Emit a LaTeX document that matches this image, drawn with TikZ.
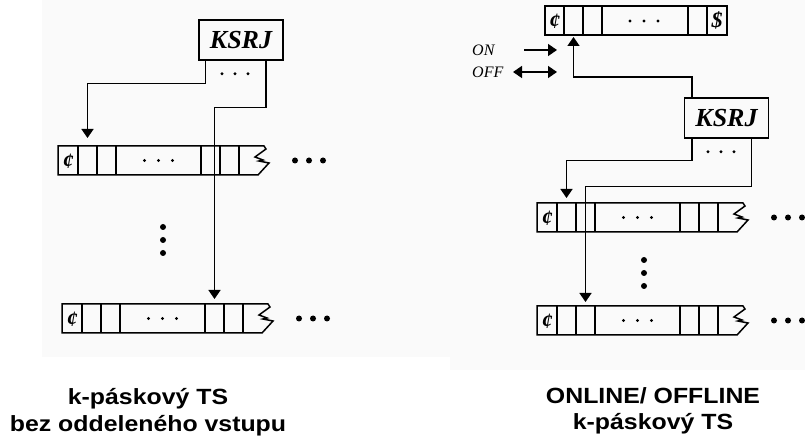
\documentclass[tikz,border=0pt]{standalone}
\usepackage{graphicx}
\usepackage{fontspec}
\setmainfont{Liberation Serif}
\newfontfamily\capfont{Liberation Sans}
\usetikzlibrary{arrows.meta,calc}
\tikzset{
  ln/.style={line width=1.5bp},
  conn/.style={ln, -{Triangle[length=9bp,width=12bp]}},
  dconn/.style={ln, {Triangle[length=9bp,width=12bp]}-{Triangle[length=9bp,width=12bp]}},
  ksrj/.style={draw, ln, minimum width=84bp, minimum height=40bp, inner sep=0pt,
    font=\fontsize{26bp}{28bp}\selectfont\bfseries\itshape},
  sym/.style={inner sep=0pt, font=\fontsize{22bp}{24bp}\selectfont\bfseries\itshape},
  lab/.style={inner sep=0pt, font=\fontsize{16bp}{18bp}\selectfont\itshape},
  captext/.style={inner sep=0pt, anchor=base, font=\capfont\bfseries\fontsize{22bp}{26bp}\selectfont},
}
\newcommand{\tapeat}[3]{%
  \begin{scope}[shift={(#2,#3)}]
    \draw[ln] (0,0) -- (206,0) -- (208,3) -- (197,11) -- (205,14) -- (201,15) -- (211,17) -- (200,29) -- (0,29) -- cycle;
    \foreach \c in {20,39,58,143,162,181} {\draw[ln] (\c,0) -- (\c,29);}
    \node[sym] (#1-s) at (10,15) {¢};
    \foreach \d in {86.5,100.5,114.5} {\fill (\d,14.5) circle (1.6bp);}
    \foreach \d in {237,251,265} {\fill (\d,14.5) circle (3bp);}
    \coordinate (#1-k2) at (29.5,0);
    \coordinate (#1-k3) at (48.5,0);
    \coordinate (#1-k5) at (152.5,0);
  \end{scope}}
\begin{document}
\begin{tikzpicture}[x=1bp, y=-1bp]
  \useasboundingbox (0,0) rectangle (805,436);
  % faint panel backgrounds
  \fill[black!2] (42,0) rectangle (450,357);
  \fill[black!2] (450,0) rectangle (805,370);

  % ---------- left panel ----------
  \node[ksrj] (k1) at (241,40) {KSRJ};
  \foreach \d in {-13,0,13} {\fill ($(k1.south)+({\d-6},13)$) circle (1.6bp);}
  \tapeat{l1}{58}{146}
  \tapeat{l2}{62}{304}
  \foreach \y in {227,240,253} {\fill (163,\y) circle (3bp);}
  \draw[conn, shorten >=8bp] ($(k1.south west)+(7,0)$) -- ++(0,23) -| (l1-k2);
  \draw[conn, shorten >=5bp] ($(k1.south east)+(-18,0)$) -- ++(0,47) -| (l2-k5);

  % ---------- right panel ----------
  \draw[ln] (545,6) rectangle (727,35);
  \foreach \c in {564,583,602,688,707} {\draw[ln] (\c,6) -- (\c,35);}
  \node[sym] (tt-s) at (554.5,21) {¢};
  \node[sym] (tt-d) at (717,20.5) {\$};
  \foreach \d in {630,644,658} {\fill (\d,21) circle (1.6bp);}
  \coordinate (tt-k2) at (573.5,35);

  \node[lab, anchor=west] (on) at (472,50) {ON};
  \node[lab, anchor=west] (off) at (472,72) {OFF};
  \coordinate (on-s) at (524,50);
  \coordinate (on-e) at (557,50);
  \coordinate (off-s) at (513,72);
  \coordinate (off-e) at (557,72);
  \draw[conn] (on-s) -- (on-e);
  \draw[dconn] (off-s) -- (off-e);

  \node[ksrj] (k2) at (726.5,118) {KSRJ};
  \foreach \d in {-13,0,13} {\fill ($(k2.south)+({\d-5.5},13)$) circle (1.6bp);}
  \tapeat{ra}{537}{203}
  \tapeat{rb}{537}{306}
  \foreach \y in {260,273,286} {\fill (644,\y) circle (3bp);}
  \draw[conn, shorten >=2bp] ($(k2.north west)+(8,0)$) -- ++(0,-20) -| (tt-k2);
  \draw[conn, shorten >=5bp] ($(k2.south west)+(8,0)$) -- ++(0,22) -| (ra-k2);
  \draw[conn, shorten >=4bp] ($(k2.south east)+(-18,0)$) -- ++(0,48) -| (rb-k3);

  % ---------- captions ----------
  \node[captext] (c1a) at (148,404) {\scalebox{1.13}[1]{k-páskový TS}};
  \node[captext] (c1b) at (148,431) {\scalebox{1.13}[1]{bez oddeleného vstupu}};
  \node[captext] (c2a) at (653,403) {\scalebox{1.13}[1]{ONLINE/ OFFLINE}};
  \node[captext] (c2b) at (653,429) {\scalebox{1.13}[1]{k-páskový TS}};
\end{tikzpicture}
\end{document}
